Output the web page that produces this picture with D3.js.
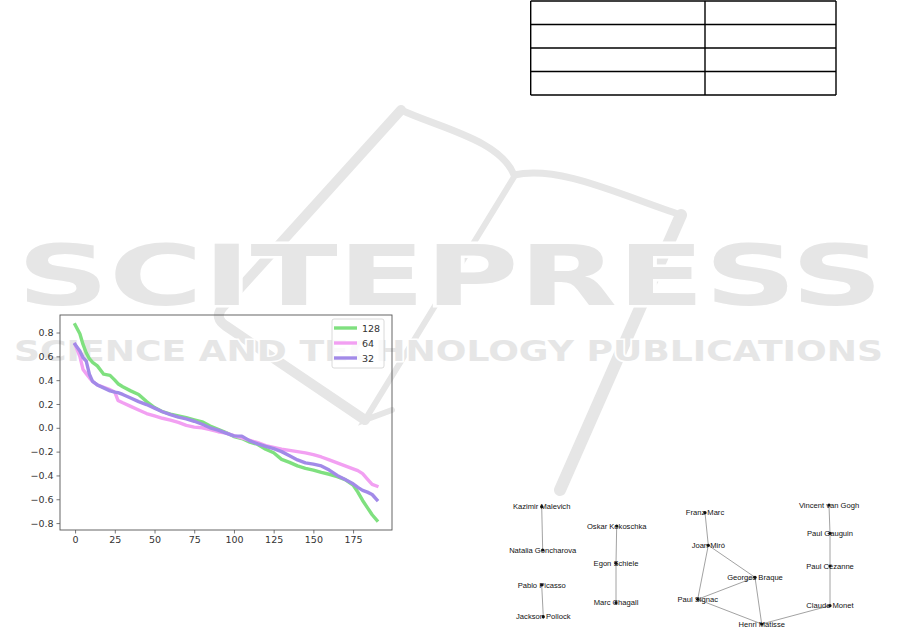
<!DOCTYPE html>
<html><head><meta charset="utf-8">
<script src="https://cdn.jsdelivr.net/npm/d3@7"></script>
<style>html,body{margin:0;padding:0;background:#fff;} svg{display:block;}</style>
</head><body>
<svg id="c" width="901" height="641"></svg>
<script>
// ---------- data ----------
const xIndex = [0,3,5,7,9,11,14,18,22,25,27,30,35,40,45,50,55,60,65,70,75,80,85,90,95,100,105,110,115,120,125,130,135,140,145,150,155,160,165,170,175,178,181,184,187,190];
const series128 = [0.865,0.79,0.70,0.63,0.58,0.55,0.52,0.45,0.44,0.40,
  0.37,0.345,0.31,0.28,0.22,0.17,0.135,0.115,0.10,0.085,
  0.067,0.05,0.015,-0.013,-0.04,-0.073,-0.09,-0.12,-0.14,-0.18,
  -0.21,-0.265,-0.29,-0.32,-0.34,-0.355,-0.375,-0.39,-0.41,-0.435,
  -0.48,-0.54,-0.61,-0.67,-0.73,-0.776];
const series64 = [0.70,0.60,0.49,0.455,0.42,0.39,0.36,0.34,0.32,0.30,
  0.23,0.21,0.18,0.15,0.12,0.10,0.08,0.065,0.045,0.02,
  0.006,0.0,-0.015,-0.033,-0.045,-0.065,-0.085,-0.105,-0.125,-0.15,
  -0.165,-0.18,-0.19,-0.20,-0.21,-0.225,-0.245,-0.27,-0.295,-0.32,
  -0.345,-0.36,-0.385,-0.43,-0.475,-0.49];
const series32 = [0.70,0.645,0.59,0.56,0.45,0.39,0.36,0.335,0.31,0.30,
  0.295,0.28,0.25,0.22,0.195,0.165,0.135,0.11,0.09,0.075,
  0.055,0.03,0.0,-0.02,-0.045,-0.068,-0.07,-0.11,-0.135,-0.155,
  -0.175,-0.20,-0.235,-0.27,-0.295,-0.305,-0.32,-0.355,-0.40,-0.435,
  -0.47,-0.50,-0.525,-0.54,-0.56,-0.605];
const seriesNames = ["128","64","32"];
const xTicks = [0,25,50,75,100,125,150,175];
const yTicks = [0.8,0.6,0.4,0.2,0.0,-0.2,-0.4,-0.6,-0.8];

const nodeNames = ["Kazimir Malevich","Natalia Goncharova","Pablo Picasso","Jackson Pollock",
  "Oskar Kokoschka","Egon Schiele","Marc Chagall","Franz Marc","Joan Miró","Georges Braque",
  "Paul Signac","Henri Matisse","Claude Monet","Paul Cézanne","Paul Gauguin","Vincent van Gogh"];
const edgeList = [["Kazimir Malevich","Natalia Goncharova"],["Pablo Picasso","Jackson Pollock"],
  ["Oskar Kokoschka","Egon Schiele"],["Egon Schiele","Marc Chagall"],["Franz Marc","Joan Miró"],
  ["Joan Miró","Georges Braque"],["Joan Miró","Paul Signac"],["Paul Signac","Georges Braque"],
  ["Paul Signac","Henri Matisse"],["Georges Braque","Henri Matisse"],["Henri Matisse","Claude Monet"],
  ["Claude Monet","Paul Cézanne"],["Paul Cézanne","Paul Gauguin"],["Paul Gauguin","Vincent van Gogh"]];
const tableRows = [["",""],["",""],["",""],["",""]];
const watermarkTitle = "SCITEPRESS";
const watermarkSubtitle = "SCIENCE AND TECHNOLOGY PUBLICATIONS";

// ---------- layout / style ----------
const seriesColors = ["#7fe07f","#f2a0f2","#a28ae8"];
const nodeLayout = {
  "Kazimir Malevich":[541.7,506.7],"Natalia Goncharova":[542.7,550],"Pablo Picasso":[541.7,585],
  "Jackson Pollock":[543.3,616.7],"Oskar Kokoschka":[616.7,526],"Egon Schiele":[616,563.3],
  "Marc Chagall":[616,602.7],"Franz Marc":[705,512.7],"Joan Miró":[708.3,545.3],
  "Georges Braque":[755,577.3],"Paul Signac":[697.7,599.3],"Henri Matisse":[761.7,624],
  "Claude Monet":[830,605.7],"Paul Cézanne":[830,566],"Paul Gauguin":[830,533.3],
  "Vincent van Gogh":[829,505]
};

const svg = d3.select("#c");
svg.append("rect").attr("width",901).attr("height",641).attr("fill","#fff");

// ---------- watermark ----------
const wm = svg.append("g").attr("fill","none").attr("stroke","#e6e6e6").attr("stroke-linecap","round");
wm.append("path").attr("stroke-width",10)
  .attr("d","M401,110 L222,308 Q214,318 226,326 L365,420");
wm.append("path").attr("stroke-width",7)
  .attr("d","M401,110 C440,128 500,140 514,175 C560,165 620,195 681,215");
wm.append("path").attr("stroke-width",6).attr("d","M514,177 L365,420 L392,410");
wm.append("path").attr("stroke-width",12).attr("d","M681,215 L560,490");
const wmt = svg.append("g").attr("fill","#e6e6e6").attr("stroke","#fff").attr("stroke-width",5)
  .attr("paint-order","stroke").attr("font-family","DejaVu Sans").attr("font-weight","bold");
wmt.append("text").attr("x",17).attr("y",305).attr("font-size",83)
  .attr("textLength",866).attr("lengthAdjust","spacingAndGlyphs").text(watermarkTitle);
wmt.append("text").attr("x",14).attr("y",361).attr("font-size",28)
  .attr("stroke-width",3)
  .attr("textLength",869).attr("lengthAdjust","spacingAndGlyphs").text(watermarkSubtitle);

// ---------- table ----------
const tbl = svg.append("g").attr("stroke","#000").attr("stroke-width",1.4).attr("fill","none");
const rowY = d3.scaleLinear().domain([0,tableRows.length]).range([1,95]);
const colX = [530.7,705,836];
d3.range(tableRows.length+1).forEach(r=>{
  tbl.append("line").attr("x1",colX[0]).attr("x2",colX[2]).attr("y1",rowY(r)).attr("y2",rowY(r));
});
colX.forEach(x=>tbl.append("line").attr("x1",x).attr("x2",x).attr("y1",rowY(0)).attr("y2",rowY(tableRows.length)));

// ---------- line chart ----------
const L = 60, R = 392, T = 315, B = 530;
const allVals = series128.concat(series64, series32);
const xMin = d3.min(xIndex), xMax = d3.max(xIndex), xPad = (xMax-xMin)*0.05;
const yMin = d3.min(allVals), yMax = d3.max(allVals), yPad = (yMax-yMin)*0.05;
const x = d3.scaleLinear().domain([xMin-xPad, xMax+xPad]).range([L,R]);
const y = d3.scaleLinear().domain([yMin-yPad, yMax+yPad]).range([B,T]);
const chart = svg.append("g");
const fmtY = d => d3.format(".1f")(d).replace("-","\u2212");

const xAxis = chart.append("g").attr("transform",`translate(0,${B})`)
  .call(d3.axisBottom(x).tickValues(xTicks).tickSize(3.5).tickPadding(3).tickFormat(d3.format("d")));
const yAxis = chart.append("g").attr("transform",`translate(${L},0)`)
  .call(d3.axisLeft(y).tickValues(yTicks).tickSize(3.5).tickPadding(3).tickFormat(fmtY));
[xAxis,yAxis].forEach(a=>{
  a.select(".domain").remove();
  a.selectAll("line").attr("stroke","#555").attr("stroke-width",0.8);
  a.selectAll("text").attr("font-family","DejaVu Sans").attr("font-size",9.5).attr("fill","#333");
});

const lineGen = d3.line().x((d,i)=>x(xIndex[i])).y(d=>y(d));
const seriesData = [series128, series64, series32];
chart.append("g").selectAll("path").data(seriesData).join("path")
  .attr("d",lineGen).attr("fill","none")
  .attr("stroke",(d,i)=>seriesColors[i]).attr("stroke-width",3.4)
  .attr("stroke-linejoin","round").attr("stroke-linecap","square");

chart.append("rect").attr("x",L).attr("y",T).attr("width",R-L).attr("height",B-T)
  .attr("fill","none").attr("stroke","#555").attr("stroke-width",0.9);

// legend
const lg = chart.append("g");
lg.append("rect").attr("x",332).attr("y",319).attr("width",52).attr("height",49).attr("rx",2)
  .attr("fill","#fff").attr("fill-opacity",0.8).attr("stroke","#d0d0d0").attr("stroke-width",0.8);
seriesNames.forEach((n,i)=>{
  const yy = 328 + i*15;
  lg.append("line").attr("x1",334).attr("x2",357).attr("y1",yy).attr("y2",yy)
    .attr("stroke",seriesColors[i]).attr("stroke-width",3.4);
  lg.append("text").attr("x",362).attr("y",yy+3.5).attr("font-family","DejaVu Sans")
    .attr("font-size",9.5).attr("fill","#333").text(n);
});

// ---------- network ----------
const net = svg.append("g");
net.append("g").selectAll("line").data(edgeList).join("line")
  .attr("x1",d=>nodeLayout[d[0]][0]).attr("y1",d=>nodeLayout[d[0]][1])
  .attr("x2",d=>nodeLayout[d[1]][0]).attr("y2",d=>nodeLayout[d[1]][1])
  .attr("stroke","#8a8a8a").attr("stroke-width",0.8);
net.append("g").selectAll("circle").data(nodeNames).join("circle")
  .attr("cx",d=>nodeLayout[d][0]).attr("cy",d=>nodeLayout[d][1]).attr("r",1.6).attr("fill","#111");
net.append("g").selectAll("text").data(nodeNames).join("text")
  .attr("x",d=>nodeLayout[d][0]).attr("y",d=>nodeLayout[d][1]+2.7)
  .attr("text-anchor","middle").attr("font-family","Liberation Sans, Arial").attr("font-size",7.6)
  .attr("fill","#111").text(d=>d);
</script>
</body></html>
